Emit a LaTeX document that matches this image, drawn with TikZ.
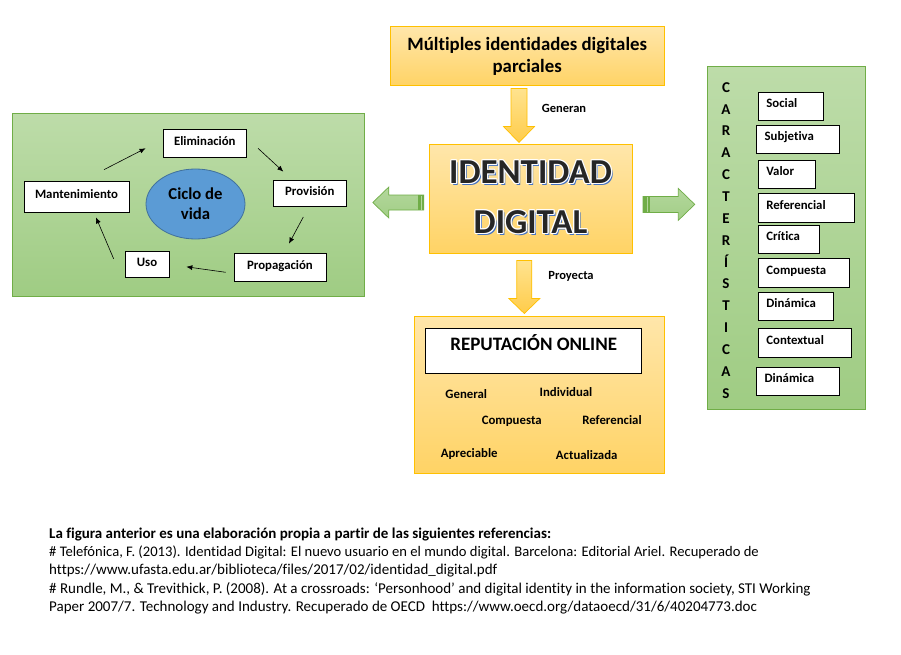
\documentclass[tikz,border=0pt]{standalone}
\usepackage{fontspec}
\setmainfont{Carlito}[Ligatures=CommonOff]
\usetikzlibrary{arrows.meta, calc, shapes.geometric}
\usepackage{xcolor}

\definecolor{ambar}{HTML}{FFC000}
\definecolor{ambartop}{HTML}{FFE6AA}
\definecolor{ambarbot}{HTML}{FFD365}
\definecolor{ambarlt}{HTML}{FFE38F}
\definecolor{ambardk}{HTML}{FFCC4A}
\definecolor{verde}{HTML}{70AD47}
\definecolor{verdetop}{HTML}{BDDCA9}
\definecolor{verdebot}{HTML}{9FCC83}
\definecolor{flechatop}{HTML}{B3D79C}
\definecolor{flechabot}{HTML}{A2CE86}
\definecolor{azul}{HTML}{5B9BD5}
\definecolor{azulborde}{HTML}{41719C}
\definecolor{sombra}{HTML}{4472C4}
\newcommand\fsz[2]{\fontsize{#1}{#2}\selectfont}

\begin{document}
\begin{tikzpicture}[x=1pt, y=-1pt,
  orangebox/.style={draw=ambar, line width=1pt, top color=ambartop, bottom color=ambarbot, inner sep=0pt},
  greenpanel/.style={draw=verde, line width=1pt, top color=verdetop, bottom color=verdebot, inner sep=0pt},
  whitebox/.style={draw=black, line width=0.7pt, fill=white, inner sep=0pt, font=\fsz{12.8}{15}\bfseries, text height=9pt, text depth=5.5pt},
  charbox/.style={whitebox, anchor=north west, inner xsep=8.3pt, align=left, text depth=6.5pt},
  word/.style={font=\fsz{12.8}{15}\bfseries, inner sep=0pt, text height=9pt, text depth=3pt},
  cyc/.style={-{Latex[length=6pt,width=5pt]}, line width=0.6pt},
  orangearrow/.style={draw=ambar, line width=0.7pt, top color=ambarlt, bottom color=ambardk},
  greenarrow/.style={draw=verde, line width=0.7pt, top color=flechatop, bottom color=flechabot},
  iddtext/.style={font=\fsz{35}{50}\bfseries, align=center, inner sep=0pt},
  ref/.style={anchor=base west, inner sep=0pt, font=\fsz{15}{17}}]

  \useasboundingbox[fill=white] (0,0) rectangle (901,655);

  % --- Identidad digital (centre) ---
  \node[orangebox, minimum width=274.3pt, minimum height=59.3pt, font=\fsz{18.8}{22.7}\bfseries, align=center] (mult) at (527.2,56.3) {Múltiples identidades digitales\\parciales};
  \node[orangebox, minimum width=203pt, minimum height=108pt] (idd) at (530.5,199) {};
  \node[iddtext, text=sombra] (iddsh) at ($(idd)+(1.8,0)$) {IDENTIDAD\\DIGITAL};
  \foreach \dx/\dy in {1.2/0, -1.2/0, 0/1.2, 0/-1.2, 0.85/0.85, -0.85/0.85, 0.85/-0.85, -0.85/-0.85}
    \node[iddtext, text=white] at ($(idd)+(\dx,-2+\dy)$) {IDENTIDAD\\DIGITAL};
  \node[iddtext, text=black!85] (iddtxt) at ($(idd)+(0,-2)$) {IDENTIDAD\\DIGITAL};

  % --- Reputacion online ---
  \node[orangebox, minimum width=250pt, minimum height=156.6pt] (rep) at (539,395) {};
  \node[whitebox, minimum width=216pt, minimum height=45pt, font=\fsz{19}{22}\bfseries, text height=13pt, text depth=14pt] (reptit) at (533.7,350.8) {REPUTACIÓN ONLINE};
  \node[word] (general) at (466.3,395) {General};
  \node[word] (individual) at (566,393.3) {Individual};
  \node[word] (compuesta) at (511.7,421) {Compuesta};
  \node[word] (referencial) at (612,421) {Referencial};
  \node[word] (apreciable) at (469.2,454) {Apreciable};
  \node[word] (actualizada) at (586.7,456) {Actualizada};

  % --- Ciclo de vida (left panel) ---
  \node[greenpanel, minimum width=352pt, minimum height=182pt] (life) at (188,205) {};
  \node[ellipse, draw=azulborde, line width=0.8pt, fill=azul, minimum width=99pt, minimum height=70pt, inner sep=0pt, font=\fsz{16.7}{20}\bfseries, align=center] (ciclo) at (195.5,204) {Ciclo de\\vida};
  \node[whitebox, minimum width=83.7pt, minimum height=28pt] (elim) at (204.8,143.3) {Eliminación};
  \node[whitebox, minimum width=73.7pt, minimum height=26.7pt] (prov) at (309.8,193.3) {Provisión};
  \node[whitebox, minimum width=105pt, minimum height=31pt] (mant) at (76.5,196.5) {Mantenimiento};
  \node[whitebox, minimum width=92pt, minimum height=28.7pt] (prop) at (280,267.3) {Propagación};
  \node[whitebox, minimum width=44pt, minimum height=25.3pt] (uso) at (147,264.3) {Uso};
  \draw[cyc] ($(mant.north)+(27.5,-11)$) -- ($(elim.west)+(-17,5)$);
  \draw[cyc] ($(elim.east)+(11,5)$) -- ($(prov.north)+(-26.5,-8)$);
  \draw[cyc] ($(prov.south)+(-6.5,10)$) -- ($(prop.north)+(9,-9)$);
  \draw[cyc] ($(prop.west)+(-8,5)$) -- ($(uso.east)+(17,2.5)$);
  \draw[cyc] ($(uso.west)+(-11,-5.5)$) -- ($(mant.south)+(19.5,5)$);

  % --- Caracteristicas (right panel) ---
  \node[greenpanel, minimum width=157.7pt, minimum height=343.3pt] (chars) at (786.8,238.3) {};
  \node[font=\fsz{15}{21.86}\bfseries, align=center, inner sep=0pt] (charlbl) at (726,240.3)
    {C\\A\\R\\A\\C\\T\\E\\R\\Í\\S\\T\\I\\C\\A\\S};
  \node[charbox, text width=48.4pt, minimum height=27.7pt] (social) at (757.7,92.3) {Social};
  \node[charbox, text width=66.7pt, minimum height=28pt] (subjetiva) at (756,125.3) {Subjetiva};
  \node[charbox, text width=41pt, minimum height=28.3pt] (valor) at (757.7,160) {Valor};
  \node[charbox, text width=80pt, minimum height=28.4pt] (referenc) at (757.7,193.3) {Referencial};
  \node[charbox, text width=45pt, minimum height=28pt] (critica) at (757.7,225.3) {Crítica};
  \node[charbox, text width=75pt, minimum height=28.4pt] (compuest) at (757.7,258.3) {Compuesta};
  \node[charbox, text width=58.4pt, minimum height=27.7pt] (dinamica) at (757.7,292.3) {Dinámica};
  \node[charbox, text width=76.4pt, minimum height=28.4pt] (contextual) at (757.7,328.3) {Contextual};
  \node[charbox, text width=66.7pt, minimum height=27.7pt] (dinamicab) at (756,367.3) {Dinámica};

  % --- block arrows ---
  \path[orangearrow] let \p1=($(mult.south)+(0,2)$), \p2=($(idd.north)+(-11.5,-2)$) in
    (\x2-8pt,\y1) -- (\x2+8pt,\y1) -- (\x2+8pt,\y2+16pt) -- (\x2+15.5pt,\y2+16pt) -- (\x2,\y2)
    -- (\x2-15.5pt,\y2+16pt) -- (\x2-8pt,\y2+16pt) -- cycle;
  \node[word, font=\fsz{12.5}{14}\bfseries] (generan) at (564,109.3) {Generan};
  \path[orangearrow] let \p1=($(idd.south)+(0,7)$), \p2=($(rep.north)+(-14.7,-2.7)$) in
    (\x2-7.5pt,\y1) -- (\x2+7.5pt,\y1) -- (\x2+7.5pt,\y2+15pt) -- (\x2+15.5pt,\y2+15pt) -- (\x2,\y2)
    -- (\x2-15.5pt,\y2+15pt) -- (\x2-7.5pt,\y2+15pt) -- cycle;
  \node[word, font=\fsz{12.5}{14}\bfseries] (proyecta) at (571,276.7) {Proyecta};

  \path[greenarrow] let \p1=($(idd.west)+(-4.7,3.5)$), \p2=($(life.east)+(8.3,0)$) in
    (\x1,\y1+7.5pt) -- (\x2+16pt,\y1+7.5pt) -- (\x2+16pt,\y1+15.5pt) -- (\x2,\y1)
    -- (\x2+16pt,\y1-15.5pt) -- (\x2+16pt,\y1-7.5pt) -- (\x1,\y1-7.5pt) -- cycle;
  \path[fill=verde] let \p1=($(idd.west)+(-4.7,3.5)$) in (\x1-6pt,\y1+7.5pt) rectangle (\x1,\y1-7.5pt);
  \path[draw=flechatop, line width=1pt] let \p1=($(idd.west)+(-4.7,3.5)$) in (\x1-2.5pt,\y1+7pt) -- (\x1-2.5pt,\y1-7pt);

  \path[greenarrow] let \p1=($(idd.east)+(10.5,5.4)$), \p2=($(chars.west)+(-12.7,0)$) in
    (\x1,\y1+8pt) -- (\x2-16.5pt,\y1+8pt) -- (\x2-16.5pt,\y1+16pt) -- (\x2,\y1)
    -- (\x2-16.5pt,\y1-16pt) -- (\x2-16.5pt,\y1-8pt) -- (\x1,\y1-8pt) -- cycle;
  \path[fill=verde] let \p1=($(idd.east)+(10.5,5.4)$) in (\x1,\y1+8pt) rectangle (\x1+6.5pt,\y1-8pt);
  \path[draw=flechatop, line width=1pt] let \p1=($(idd.east)+(10.5,5.4)$) in (\x1+4pt,\y1+7.5pt) -- (\x1+4pt,\y1-7.5pt);

  % --- references ---
  \node[ref, font=\fsz{15}{17}\bfseries] (ref1) at (49,538.3) {La figura anterior es una elaboración propia a partir de las siguientes referencias:};
  \node[ref, font=\fsz{14.6}{17}] (ref2) at (49,556.7) {\# Telefónica, F. (2013). Identidad Digital: El nuevo usuario en el mundo digital. Barcelona: Editorial Ariel. Recuperado de};
  \node[ref] (ref3) at (49,574.7) {https://www.ufasta.edu.ar/biblioteca/files/2017/02/identidad\_digital.pdf};
  \node[ref] (ref4) at (49,593) {\# Rundle, M., \& Trevithick, P. (2008). At a crossroads: ‘Personhood’ and digital identity in the information society, STI Working};
  \node[ref] (ref5) at (49,611) {Paper 2007/7. Technology and Industry. Recuperado de OECD\ \ https://www.oecd.org/dataoecd/31/6/40204773.doc};
\end{tikzpicture}
\end{document}
